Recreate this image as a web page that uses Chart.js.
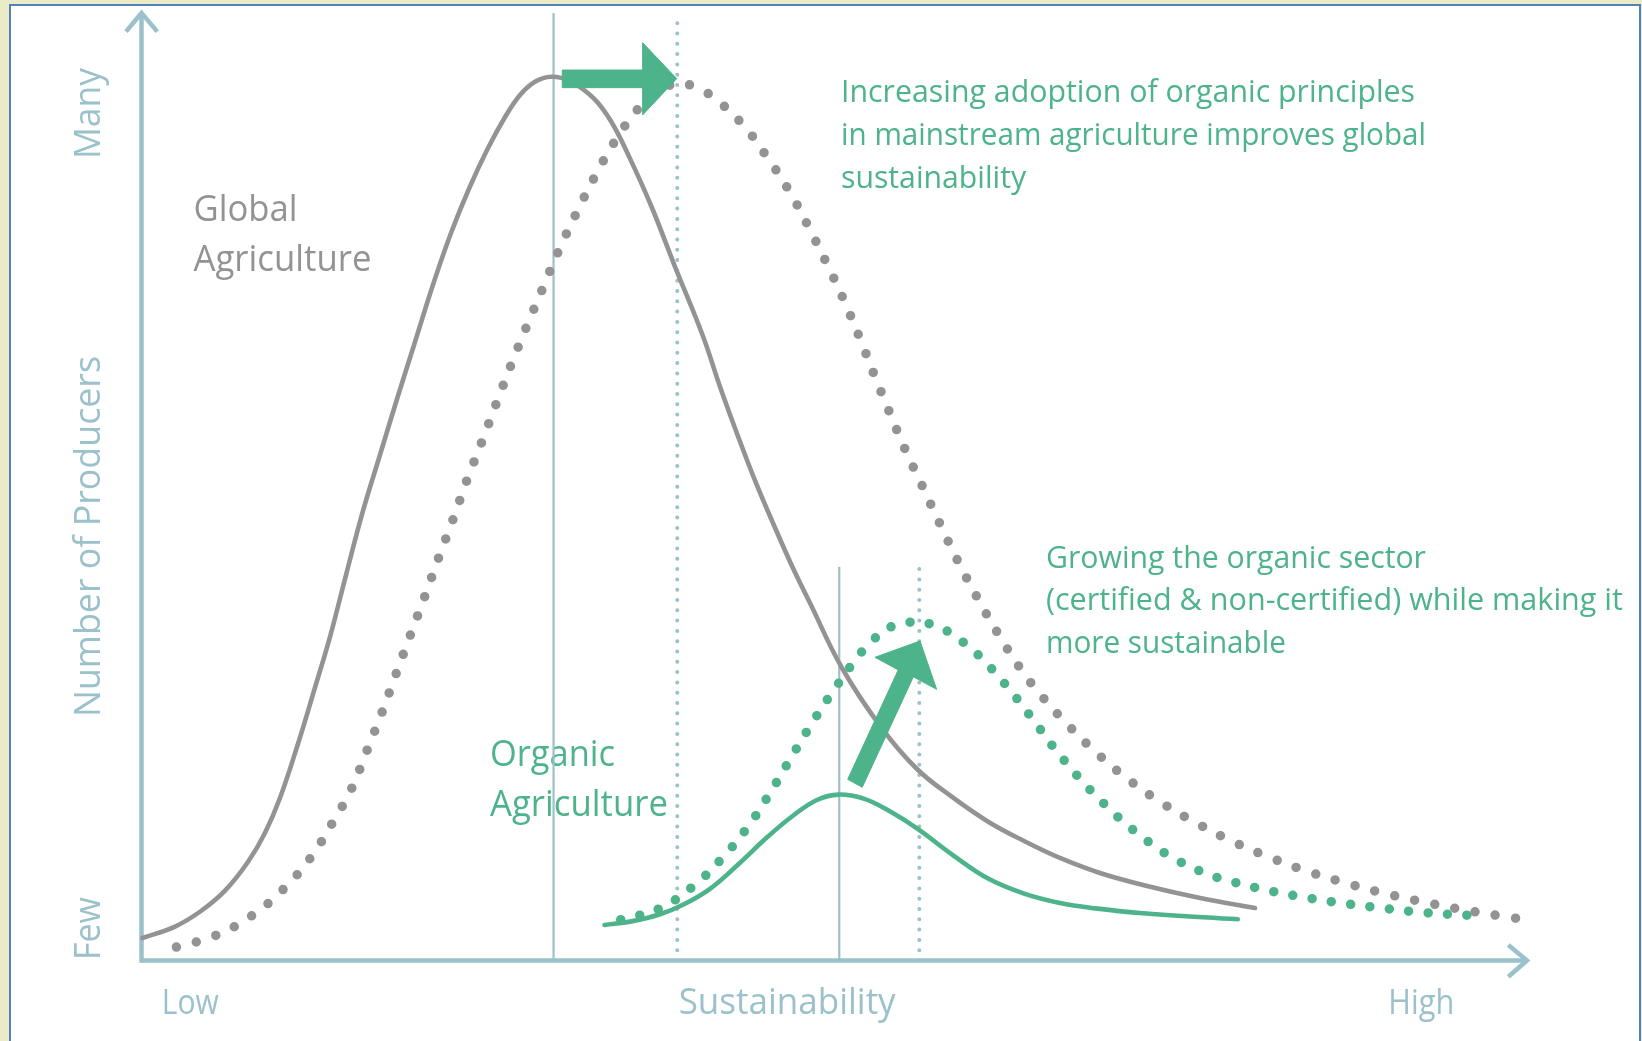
<!DOCTYPE html>
<html>
<head>
<meta charset="utf-8">
<script src="https://cdn.jsdelivr.net/npm/chart.js@4.4.1/dist/chart.umd.min.js"></script>
<style>
  html, body { margin: 0; padding: 0; width: 1642px; height: 1041px; overflow: hidden; background: #ebebc7; }
  #frame { position: absolute; left: 9px; top: 4px; width: 1628px; height: 1100px; border: 2px solid #4f81bd; background: #fff; }
  #chart { position: absolute; left: 0; top: 0; }
</style>
</head>
<body>
<div id="frame"></div>
<canvas id="chart" width="1642" height="1041"></canvas>
<script>
// x = sustainability (0 low .. 100 high), y = number of producers (0 few .. 100 many)

// global agriculture today (solid grey)
const globalNowX = [0.07, 2.42, 4.32, 6.03, 7.68, 8.91, 10.00, 11.29, 12.52, 13.61, 14.76, 15.92, 17.21, 18.51, 19.74, 21.08, 22.34, 23.66, 24.94, 26.24, 27.32, 28.40, 29.58, 30.92, 32.68, 33.96, 35.26, 36.85, 38.46, 40.52, 41.76, 43.10, 44.35, 45.67, 46.95, 48.25, 50.56, 53.40, 55.97, 58.50, 61.14, 63.70, 66.29, 69.18, 72.28, 76.40, 80.37];
const globalNowY = [2.37, 3.58, 5.25, 7.37, 10.39, 13.46, 17.17, 22.85, 28.80, 34.19, 40.68, 47.12, 53.35, 59.58, 65.28, 71.50, 76.78, 81.53, 85.54, 89.02, 91.35, 92.75, 93.27, 92.82, 90.93, 88.39, 84.63, 79.42, 73.40, 65.91, 60.53, 55.15, 50.40, 45.86, 41.64, 37.73, 30.87, 24.58, 20.21, 17.26, 14.62, 12.61, 10.82, 9.23, 7.97, 6.60, 5.54];

// global agriculture shifted (dotted grey)
const globalNextX = [2.52, 5.28, 7.93, 10.18, 12.19, 13.82, 15.15, 16.26, 17.34, 18.37, 19.38, 20.43, 21.44, 22.48, 23.49, 24.56, 25.62, 26.67, 27.78, 28.94, 30.10, 31.36, 32.70, 34.18, 35.83, 37.28, 38.72, 40.00, 41.29, 43.41, 45.15, 46.78, 48.20, 49.51, 50.75, 51.91, 52.99, 53.92, 55.08, 56.32, 57.60, 58.90, 60.30, 61.78, 63.41, 64.95, 66.92, 69.03, 71.30, 73.69, 76.22, 78.82, 81.50, 84.24, 86.99, 89.80, 92.64, 95.47, 98.31, 100.5];
const globalNextY = [1.42, 2.59, 4.70, 7.44, 10.82, 14.62, 18.10, 22.11, 26.12, 30.24, 34.25, 38.36, 42.48, 46.54, 50.71, 54.72, 58.84, 62.85, 66.86, 70.87, 74.88, 78.79, 82.69, 86.49, 89.87, 91.66, 92.61, 92.15, 91.08, 88.20, 84.80, 81.14, 77.26, 73.40, 69.50, 65.44, 61.42, 58.10, 54.05, 50.18, 46.17, 42.22, 38.36, 34.59, 30.87, 27.95, 24.78, 21.79, 19.02, 16.59, 14.44, 12.51, 10.85, 9.37, 8.15, 7.05, 6.14, 5.33, 4.66, 4.17];

// organic agriculture today (solid green)
const organicNowX = [33.42, 35.36, 37.42, 39.23, 41.03, 43.10, 45.15, 46.95, 48.75, 50.31, 52.12, 53.92, 55.97, 58.56, 61.14, 63.70, 66.29, 68.87, 72.28, 79.13];
const organicNowY = [3.75, 4.13, 4.88, 5.99, 7.56, 10.18, 13.00, 15.20, 16.94, 17.51, 17.08, 15.82, 13.94, 11.13, 8.62, 7.06, 6.07, 5.50, 4.98, 4.35];

// organic agriculture grown (dotted green)
const organicNextX = [34.59, 37.32, 39.80, 41.96, 43.87, 45.43, 46.91, 48.46, 50.05, 51.76, 52.76, 53.92, 55.21, 56.41, 57.78, 59.00, 60.16, 61.21, 62.20, 63.15, 64.06, 64.85, 65.73, 66.71, 67.69, 68.73, 69.83, 70.94, 72.14, 73.33, 74.62, 75.81, 77.02, 78.35, 81.06, 83.80, 86.55, 89.29, 92.05, 94.83, 95.89];
const organicNextY = [4.31, 5.44, 7.81, 10.88, 14.32, 17.83, 21.48, 25.20, 28.71, 32.17, 33.77, 35.09, 35.65, 35.67, 35.04, 33.93, 32.56, 31.02, 29.39, 27.70, 25.97, 24.43, 22.68, 20.93, 19.24, 17.61, 16.04, 14.54, 13.14, 11.84, 10.68, 9.84, 9.06, 8.46, 7.47, 6.70, 6.07, 5.57, 5.12, 4.83, 4.77];

// peak markers: global now, global shifted, organic now, organic grown
const peakX = [29.74, 38.67, 50.36, 56.14];
const peakTop = [100, 100, 41.56, 41.56];

// green arrows (outline points)
const shiftArrowX = [30.37, 36.17, 36.17, 38.63, 36.17, 36.17, 30.37];
const shiftArrowY = [93.98, 93.98, 96.87, 93.07, 89.24, 92.12, 92.12];
const growArrowX = [50.97, 54.62, 52.94, 56.19, 57.39, 55.71, 52.02];
const growArrowY = [19.12, 30.67, 32.00, 33.72, 28.62, 29.94, 18.28];

// axis tick labels and titles
const xTickLabels = ['Low', 'High'];
const yTickLabels = ['Few', 'Many'];
const xTitle = 'Sustainability';
const yTitle = 'Number of Producers';
const globalLabel = ['Global', 'Agriculture'];
const organicLabel = ['Organic', 'Agriculture'];
const shiftNote = ['Increasing adoption of organic principles', 'in mainstream agriculture improves global', 'sustainability'];
const growNote = ['Growing the organic sector', '(certified & non-certified) while making it', 'more sustainable'];

const grey = '#939393';
const green = '#4db38a';
const axisColor = '#9bc1ca';
const fontFamily = '"Open Sans", "Noto Sans", sans-serif';

function pts(xs, ys) {
  return xs.map((x, i) => ({ x: x, y: ys[i] }));
}

function curve(xs, ys, color, width, dash) {
  return {
    data: pts(xs, ys),
    borderColor: color,
    borderWidth: width,
    borderDash: dash || [],
    borderCapStyle: 'round',
    tension: 0.4,
    pointRadius: 0,
    fill: false,
    clip: false
  };
}

function straight(xs, ys, color, width, dash) {
  return {
    data: pts(xs, ys),
    borderColor: color,
    borderWidth: width,
    borderDash: dash || [],
    borderCapStyle: dash ? 'round' : 'butt',
    borderJoinStyle: 'miter',
    tension: 0,
    pointRadius: 0,
    fill: false,
    clip: false
  };
}

function arrowShape(xs, ys) {
  return {
    data: pts(xs.concat(xs[0]), ys.concat(ys[0])),
    borderColor: green,
    borderWidth: 1,
    backgroundColor: green,
    tension: 0,
    pointRadius: 0,
    fill: 'shape',
    clip: false
  };
}

const datasets = [
  arrowShape(shiftArrowX, shiftArrowY),
  arrowShape(growArrowX, growArrowY),
  curve(globalNowX, globalNowY, grey, 4.6),
  curve(organicNowX, organicNowY, green, 4.6),
  curve(globalNextX, globalNextY, grey, 9.5, [0, 20.5]),
  curve(organicNextX, organicNextY, green, 9.5, [0, 19.5])
];
peakX.forEach((px, i) => {
  const dotted = i % 2 === 1;
  datasets.push(straight([px, px], [0, peakTop[i]], axisColor, dotted ? 4 : 2.2, dotted ? [0, 10.3] : null));
});
// axes with open arrow heads
datasets.push(straight([0, 0], [-0.24, 100], axisColor, 4.5));
datasets.push(straight([-1.12, 0, 1.14], [98.03, 100, 98.03], axisColor, 4.5));
datasets.push(straight([0, 100], [0, 0], axisColor, 4.5));
datasets.push(straight([98.65, 100, 98.65], [1.64, 0, -1.71], axisColor, 4.5));

const textBlocks = [
  { lines: globalLabel, x: 3.75, y: 78.0, size: 37, lead: 49.5, color: grey, widths: [104, 178] },
  { lines: organicLabel, x: 25.15, y: 20.53, size: 37, lead: 50, color: green, widths: [125, 178] },
  { lines: shiftNote, x: 50.49, y: 90.64, size: 31.5, lead: 43, color: green, widths: [574, 585, 185] },
  { lines: growNote, x: 65.28, y: 41.46, size: 31.5, lead: 42.8, color: green, widths: [380, 577, 240] },
  { lines: [xTickLabels[0]], x: 1.46, y: -5.65, size: 34, color: axisColor, widths: [57] },
  { lines: [xTickLabels[1]], x: 89.99, y: -5.65, size: 34, color: axisColor, widths: [66] },
  { lines: [xTitle], x: 38.77, y: -5.6, size: 37, color: axisColor, widths: [217] },
  { lines: [yTickLabels[0]], x: -3.0, y: 0.05, size: 37, color: axisColor, widths: [63], rotate: true },
  { lines: [yTitle], x: -3.0, y: 25.7, size: 37, color: axisColor, widths: [361], rotate: true },
  { lines: [yTickLabels[1]], x: -3.0, y: 84.59, size: 37, color: axisColor, widths: [91], rotate: true }
];

const textPlugin = {
  id: 'sketchText',
  beforeDatasetsDraw(chart) {
    const ctx = chart.ctx;
    const xs = chart.scales.x, ys = chart.scales.y;
    ctx.save();
    textBlocks.forEach(t => {
      ctx.font = t.size + 'px ' + fontFamily;
      ctx.fillStyle = t.color;
      ctx.textAlign = 'left';
      ctx.textBaseline = 'alphabetic';
      t.lines.forEach((line, i) => {
        const k = t.widths[i] / ctx.measureText(line).width;
        ctx.save();
        ctx.translate(xs.getPixelForValue(t.x), ys.getPixelForValue(t.y));
        if (t.rotate) ctx.rotate(-Math.PI / 2);
        ctx.translate(0, i * (t.lead || 0));
        ctx.scale(k, 1);
        ctx.fillText(line, 0, 0);
        ctx.restore();
      });
    });
    ctx.restore();
  }
};

new Chart(document.getElementById('chart'), {
  type: 'line',
  data: { datasets: datasets },
  options: {
    responsive: false,
    animation: false,
    events: [],
    layout: { padding: { left: 141.5, right: 115, top: 13, bottom: 80.5 } },
    plugins: { legend: { display: false }, tooltip: { enabled: false } },
    scales: {
      x: { type: 'linear', min: 0, max: 100, display: false },
      y: { type: 'linear', min: 0, max: 100, display: false }
    }
  },
  plugins: [textPlugin]
});
</script>
</body>
</html>
